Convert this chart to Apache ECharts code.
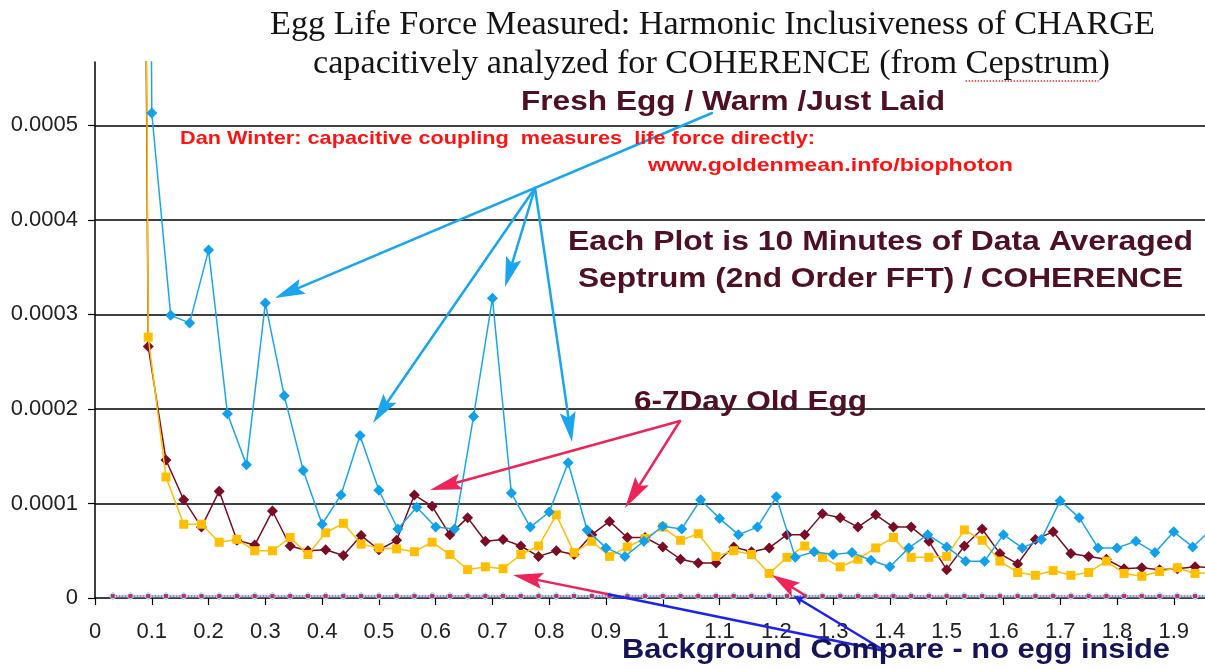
<!DOCTYPE html>
<html>
<head>
<meta charset="utf-8">
<title>Egg Life Force Measured</title>
<script src="https://cdn.jsdelivr.net/npm/echarts@6/dist/echarts.min.js"></script>
<style>
  html, body { margin: 0; padding: 0; background: #ffffff; }
  #chart { width: 1205px; height: 670px; }
</style>
</head>
<body>
<div id="chart"></div>
<script>
// Quefrency sample positions, 1/32 step (6-7 day egg, background compare, zero traces)
const quefrencyFine = [
  0.03125, 0.0625, 0.09375, 0.125, 0.15625, 0.1875, 0.21875, 0.25, 0.28125, 0.3125, 0.34375,
  0.375, 0.40625, 0.4375, 0.46875, 0.5, 0.53125, 0.5625, 0.59375, 0.625, 0.65625,
  0.6875, 0.71875, 0.75, 0.78125, 0.8125, 0.84375, 0.875, 0.90625, 0.9375, 0.96875,
  1, 1.03125, 1.0625, 1.09375, 1.125, 1.15625, 1.1875, 1.21875, 1.25, 1.28125,
  1.3125, 1.34375, 1.375, 1.40625, 1.4375, 1.46875, 1.5, 1.53125, 1.5625, 1.59375,
  1.625, 1.65625, 1.6875, 1.71875, 1.75, 1.78125, 1.8125, 1.84375, 1.875, 1.90625,
  1.9375, 1.96875
];

// Quefrency sample positions, 1/30 step (fresh egg)
const quefrencyCoarse = [
  0.0667, 0.1, 0.1333, 0.1667, 0.2, 0.2333, 0.2667, 0.3, 0.3333, 0.3667,
  0.4, 0.4333, 0.4667, 0.5, 0.5333, 0.5667, 0.6, 0.6333, 0.6667, 0.7,
  0.7333, 0.7667, 0.8, 0.8333, 0.8667, 0.9, 0.9333, 0.9667, 1, 1.0333,
  1.0667, 1.1, 1.1333, 1.1667, 1.2, 1.2333, 1.2667, 1.3, 1.3333, 1.3667,
  1.4, 1.4333, 1.4667, 1.5, 1.5333, 1.5667, 1.6, 1.6333, 1.6667, 1.7,
  1.7333, 1.7667, 1.8, 1.8333, 1.8667, 1.9, 1.9333, 1.9667
];

// Fresh egg / warm / just laid (on quefrencyCoarse)
const freshEgg = [
  40e-4, 5.13e-4, 2.99e-4, 2.91e-4, 3.68e-4, 1.95e-4, 1.41e-4, 3.12e-4, 2.14e-4, 1.35e-4,
  0.78e-4, 1.09e-4, 1.72e-4, 1.14e-4, 0.73e-4, 0.96e-4, 0.75e-4, 0.73e-4, 1.92e-4, 3.17e-4,
  1.11e-4, 0.75e-4, 0.91e-4, 1.43e-4, 0.72e-4, 0.53e-4, 0.44e-4, 0.60e-4, 0.76e-4, 0.73e-4,
  1.04e-4, 0.84e-4, 0.67e-4, 0.75e-4, 1.07e-4, 0.43e-4, 0.49e-4, 0.46e-4, 0.48e-4, 0.40e-4,
  0.33e-4, 0.53e-4, 0.67e-4, 0.54e-4, 0.39e-4, 0.39e-4, 0.67e-4, 0.53e-4, 0.62e-4, 1.03e-4,
  0.85e-4, 0.53e-4, 0.53e-4, 0.60e-4, 0.48e-4, 0.70e-4, 0.54e-4, 0.73e-4
];

// 6-7 day old egg (on quefrencyFine from 0.0625)
const oldEgg = [
  30e-4, 2.66e-4, 1.46e-4, 1.04e-4, 0.75e-4, 1.13e-4, 0.61e-4, 0.56e-4, 0.92e-4, 0.55e-4,
  0.50e-4, 0.51e-4, 0.45e-4, 0.66e-4, 0.51e-4, 0.61e-4, 1.09e-4, 0.97e-4, 0.67e-4, 0.85e-4,
  0.60e-4, 0.62e-4, 0.55e-4, 0.44e-4, 0.50e-4, 0.46e-4, 0.67e-4, 0.81e-4, 0.64e-4, 0.64e-4,
  0.54e-4, 0.41e-4, 0.37e-4, 0.37e-4, 0.54e-4, 0.49e-4, 0.53e-4, 0.67e-4, 0.67e-4, 0.89e-4,
  0.85e-4, 0.75e-4, 0.88e-4, 0.75e-4, 0.75e-4, 0.60e-4, 0.30e-4, 0.55e-4, 0.73e-4, 0.47e-4,
  0.36e-4, 0.62e-4, 0.70e-4, 0.47e-4, 0.44e-4, 0.41e-4, 0.31e-4, 0.32e-4, 0.30e-4, 0.31e-4,
  0.33e-4, 0.32e-4
];

// Background compare, no egg inside (on quefrencyFine from 0.0625)
const backgroundCompare = [
  35e-4, 2.76e-4, 1.28e-4, 0.78e-4, 0.78e-4, 0.59e-4, 0.62e-4, 0.50e-4, 0.50e-4, 0.64e-4,
  0.46e-4, 0.69e-4, 0.79e-4, 0.57e-4, 0.53e-4, 0.52e-4, 0.49e-4, 0.59e-4, 0.46e-4, 0.30e-4,
  0.33e-4, 0.31e-4, 0.46e-4, 0.55e-4, 0.88e-4, 0.48e-4, 0.60e-4, 0.44e-4, 0.54e-4, 0.63e-4,
  0.75e-4, 0.61e-4, 0.68e-4, 0.44e-4, 0.50e-4, 0.46e-4, 0.26e-4, 0.43e-4, 0.55e-4, 0.43e-4,
  0.33e-4, 0.41e-4, 0.53e-4, 0.64e-4, 0.43e-4, 0.43e-4, 0.44e-4, 0.72e-4, 0.61e-4, 0.39e-4,
  0.27e-4, 0.24e-4, 0.29e-4, 0.24e-4, 0.27e-4, 0.39e-4, 0.26e-4, 0.23e-4, 0.28e-4, 0.32e-4,
  0.26e-4, 0.27e-4
];

// Near-zero reference traces (on the full quefrencyFine)
const zeroTraceA = [
  2e-6, 2e-6, 2e-6, 2e-6, 2e-6, 2e-6, 2e-6, 2e-6, 2e-6, 2e-6, 2e-6,
  2e-6, 2e-6, 2e-6, 2e-6, 2e-6, 2e-6, 2e-6, 2e-6, 2e-6, 2e-6,
  2e-6, 2e-6, 2e-6, 2e-6, 2e-6, 2e-6, 2e-6, 2e-6, 2e-6, 2e-6,
  2e-6, 2e-6, 2e-6, 2e-6, 2e-6, 2e-6, 2e-6, 2e-6, 2e-6, 2e-6,
  2e-6, 2e-6, 2e-6, 2e-6, 2e-6, 2e-6, 2e-6, 2e-6, 2e-6, 2e-6,
  2e-6, 2e-6, 2e-6, 2e-6, 2e-6, 2e-6, 2e-6, 2e-6, 2e-6, 2e-6,
  2e-6, 2e-6
];
const zeroTraceB = [
  2e-6, 2e-6, 2e-6, 2e-6, 2e-6, 2e-6, 2e-6, 2e-6, 2e-6, 2e-6, 2e-6,
  2e-6, 2e-6, 2e-6, 2e-6, 2e-6, 2e-6, 2e-6, 2e-6, 2e-6, 2e-6,
  2e-6, 2e-6, 2e-6, 2e-6, 2e-6, 2e-6, 2e-6, 2e-6, 2e-6, 2e-6,
  2e-6, 2e-6, 2e-6, 2e-6, 2e-6, 2e-6, 2e-6, 2e-6, 2e-6, 2e-6,
  2e-6, 2e-6, 2e-6, 2e-6, 2e-6, 2e-6, 2e-6, 2e-6, 2e-6, 2e-6,
  2e-6, 2e-6, 2e-6, 2e-6, 2e-6, 2e-6, 2e-6, 2e-6, 2e-6, 2e-6,
  2e-6, 2e-6
];

// Axis ranges
const xRange = { min: 0, max: 1.955, step: 0.1 };
const yRange = { min: 0, max: 0.000567, step: 0.0001 };

const titleLines = [
  'Egg Life Force Measured: Harmonic Inclusiveness of CHARGE',
  'capacitively analyzed for COHERENCE (from Cepstrum)'
];

function pairs(xs, ys) {
  return ys.map((y, i) => [xs[i], y]);
}

// ---- text helpers: stretch a text horizontally to span [left, right]
const measureCtx = document.createElement('canvas').getContext('2d');
function textWidth(text, font) {
  measureCtx.font = font;
  return measureCtx.measureText(text).width;
}
function spanText(text, left, right, yMid, font, color) {
  const sx = (right - left) / textWidth(text, font);
  return {
    type: 'text', x: (left + right) / 2, y: yMid, scaleX: sx, z: 120, silent: true,
    style: { text: text, font: font, fill: color, align: 'center', verticalAlign: 'middle' }
  };
}

// ---- arrow helpers
function arrow(x1, y1, x2, y2, color, width, headLen, headHalf) {
  const dx = x2 - x1, dy = y2 - y1, d = Math.hypot(dx, dy);
  const ux = dx / d, uy = dy / d;
  const bx = x2 - ux * headLen, by = y2 - uy * headLen;
  const nx = x2 - ux * headLen * 0.82, ny = y2 - uy * headLen * 0.82;
  return [
    {
      type: 'line', z: 110, silent: true,
      shape: { x1: x1, y1: y1, x2: nx, y2: ny },
      style: { stroke: color, lineWidth: width, lineCap: 'round' }
    },
    {
      type: 'polygon', z: 111, silent: true,
      shape: { points: [[x2, y2], [bx - uy * headHalf, by + ux * headHalf], [nx, ny], [bx + uy * headHalf, by - ux * headHalf]] },
      style: { fill: color }
    }
  ];
}
function segment(x1, y1, x2, y2, color, width) {
  return {
    type: 'line', z: 110, silent: true,
    shape: { x1: x1, y1: y1, x2: x2, y2: y2 },
    style: { stroke: color, lineWidth: width, lineCap: 'round' }
  };
}

const BLUE = '#19a6ee';
const PINK = '#ee2458';
const ROYAL = '#1d22ee';
const MAROON_TEXT = '#4e1022';
const NAVY_TEXT = '#141456';
const RED_TEXT = '#ff1212';

const bigFont = 'bold 28px "Liberation Sans", Arial, sans-serif';
const redFont = 'bold 19px "Liberation Sans", Arial, sans-serif';
const titleFont = '33px "Liberation Serif", "Times New Roman", serif';

// underline position under "Cepstrum" on the second title line
const t2Left = 313, t2Right = 1110;
const t2Scale = (t2Right - t2Left) / textWidth(titleLines[1], titleFont);
const cepLeft = t2Left + textWidth('capacitively analyzed for COHERENCE (from ', titleFont) * t2Scale;
const cepRight = cepLeft + textWidth('Cepstrum', titleFont) * t2Scale;

const graphics = [
  spanText(titleLines[0], 270, 1155, 25, titleFont, '#141414'),
  spanText(titleLines[1], t2Left, t2Right, 64, titleFont, '#141414'),
  {
    type: 'line', z: 119, silent: true,
    shape: { x1: cepLeft, y1: 81, x2: cepRight, y2: 81 },
    style: { stroke: '#ee3030', lineWidth: 1.5, lineDash: [1.5, 1.5] }
  },
  spanText('Fresh Egg / Warm /Just Laid', 521, 945, 102.5, bigFont, MAROON_TEXT),
  spanText('Dan Winter: capacitive coupling  measures  life force directly:', 180, 815, 138.5, redFont, RED_TEXT),
  spanText('www.goldenmean.info/biophoton', 648, 1013, 166, redFont, RED_TEXT),
  spanText('Each Plot is 10 Minutes of Data Averaged', 568, 1193, 242.5, bigFont, MAROON_TEXT),
  spanText('Septrum (2nd Order FFT) / COHERENCE', 578, 1183, 279, bigFont, MAROON_TEXT),
  spanText('6-7Day Old Egg', 634, 867, 402.5, bigFont, MAROON_TEXT),
  spanText('Background Compare - no egg inside', 622, 1170, 650.5, bigFont, NAVY_TEXT)
]
  // fresh egg pointers
  .concat(arrow(712, 113, 275, 298, BLUE, 2.5, 30, 8))
  .concat(arrow(535, 188, 373, 423, BLUE, 2.5, 30, 8))
  .concat(arrow(535, 188, 505, 287, BLUE, 2.5, 30, 8))
  .concat(arrow(535, 188, 572, 442, BLUE, 2.5, 30, 8))
  // 6-7 day old egg pointers
  .concat(arrow(680, 421, 430, 490, PINK, 2.5, 32, 8))
  .concat(arrow(680, 421, 625, 508, PINK, 2.5, 32, 8))
  // background compare pointers
  .concat([segment(885, 651, 607, 594, ROYAL, 2.5)])
  .concat(arrow(607, 594, 513, 575, PINK, 2.5, 30, 8))
  .concat(arrow(885, 651, 794, 596, ROYAL, 2.5, 10, 5))
  .concat(arrow(803, 594, 772, 575, PINK, 2.5, 28, 8));

const chart = echarts.init(document.getElementById('chart'), null, { renderer: 'canvas' });

chart.setOption({
  animation: false,
  backgroundColor: '#ffffff',
  grid: { left: 95, right: 0, top: 62, bottom: 72, containLabel: false },
  xAxis: {
    type: 'value',
    min: xRange.min, max: xRange.max, interval: xRange.step,
    axisLine: { show: true, lineStyle: { color: '#000000', width: 1.5 } },
    axisTick: { show: true, length: 7, lineStyle: { color: '#000000', width: 1.2 } },
    axisLabel: {
      color: '#222222', fontSize: 22, fontFamily: '"Liberation Sans", Arial, sans-serif',
      margin: 23, showMaxLabel: false,
      formatter: v => String(+v.toFixed(1))
    },
    splitLine: { show: false }
  },
  yAxis: {
    type: 'value',
    min: yRange.min, max: yRange.max, interval: yRange.step,
    axisLine: { show: true, lineStyle: { color: '#000000', width: 1.5 } },
    axisTick: { show: true, length: 7, lineStyle: { color: '#000000', width: 1.2 } },
    axisLabel: {
      color: '#222222', fontSize: 22, fontFamily: '"Liberation Sans", Arial, sans-serif',
      margin: 17, showMaxLabel: false,
      formatter: v => (v === 0 ? '0' : v.toFixed(4))
    },
    splitLine: { show: true, showMinLine: false, showMaxLine: false, lineStyle: { color: '#000000', width: 1.5 } }
  },
  series: [
    {
      name: 'Zero trace A', type: 'line', data: pairs(quefrencyFine, zeroTraceA),
      symbol: 'diamond', symbolSize: 9, showAllSymbol: true, clip: false,
      lineStyle: { color: '#a8eef8', width: 2.5 }, itemStyle: { color: '#a2eaf6' },
      emphasis: { disabled: true }, z: 8
    },
    {
      name: 'Zero trace B', type: 'line', data: pairs(quefrencyFine, zeroTraceB),
      symbol: 'rect', symbolSize: 4, showAllSymbol: true, clip: false,
      lineStyle: { color: '#e03cc8', width: 1.5, type: 'dotted' }, itemStyle: { color: '#c0305c' },
      emphasis: { disabled: true }, z: 9
    },
    {
      name: '6-7 Day Old Egg', type: 'line', data: pairs(quefrencyFine.slice(1), oldEgg),
      symbol: 'diamond', symbolSize: 11, showAllSymbol: true,
      lineStyle: { color: '#7b0c25', width: 1.5 }, itemStyle: { color: '#7b0c25' },
      emphasis: { disabled: true }, z: 4
    },
    {
      name: 'Background Compare', type: 'line', data: pairs(quefrencyFine.slice(1), backgroundCompare),
      symbol: 'rect', symbolSize: 9, showAllSymbol: true,
      lineStyle: { color: '#ffc000', width: 1.5 }, itemStyle: { color: '#ffbf00' },
      emphasis: { disabled: true }, z: 5
    },
    {
      name: 'Fresh Egg', type: 'line', data: pairs(quefrencyCoarse, freshEgg),
      symbol: 'diamond', symbolSize: 11, showAllSymbol: true,
      lineStyle: { color: BLUE, width: 1.5 }, itemStyle: { color: '#10a0ec' },
      emphasis: { disabled: true }, z: 6
    }
  ],
  graphic: graphics
});
</script>
</body>
</html>
